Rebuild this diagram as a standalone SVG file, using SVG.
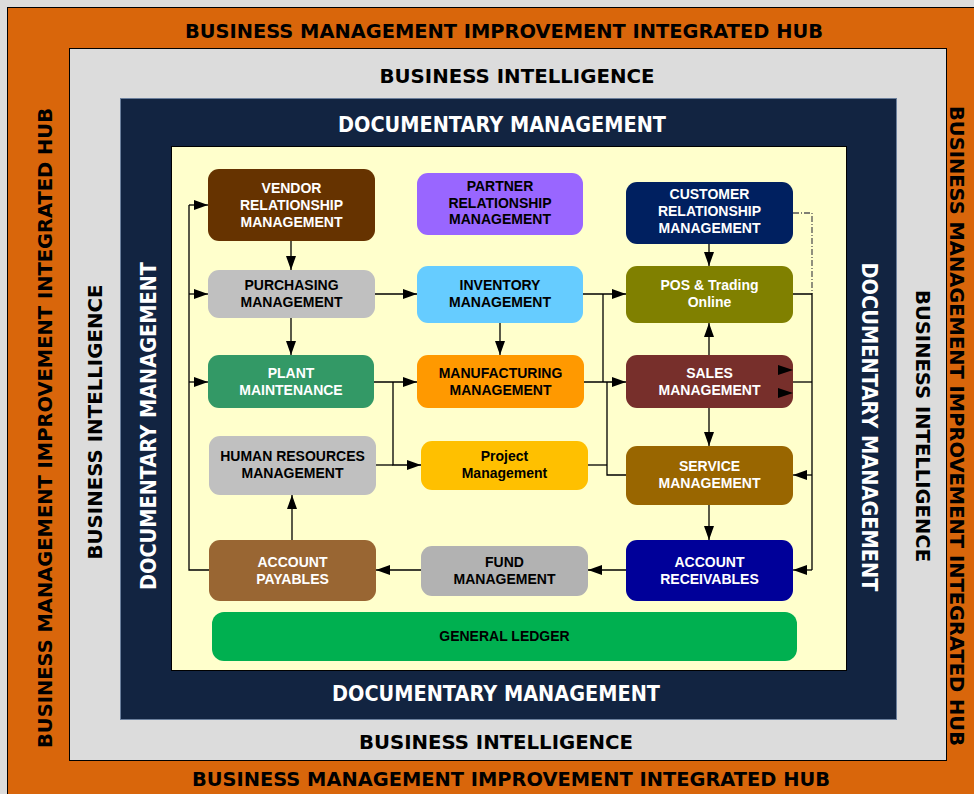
<svg xmlns="http://www.w3.org/2000/svg" width="974" height="794" viewBox="0 0 974 794">
<defs>
<marker id="ah" markerUnits="userSpaceOnUse" markerWidth="14" markerHeight="10" refX="14" refY="5" orient="auto">
<path d="M0,0 L14,5 L0,10 z" fill="#000"/>
</marker>
<style>
.frame{font-family:"DejaVu Sans",Verdana,sans-serif;font-weight:bold;text-anchor:middle}
.hub{font-size:20px;fill:#000}
.bi{font-size:20px;fill:#000}
.dm{font-size:21px;fill:#fff}
.node text{font-family:"Liberation Sans",Arial,sans-serif;font-weight:bold;font-size:14px;text-anchor:middle}
.w{fill:#fff}
.k{fill:#000}
.c{fill:none;stroke:#000;stroke-width:1.3}
.ca{fill:none;stroke:#000;stroke-width:1.3;marker-end:url(#ah)}
</style>
</defs>
<rect x="0" y="0" width="974" height="794" fill="#dcdcdc"/>
<rect x="7.5" y="7.5" width="990" height="800" fill="#d9660b" stroke="#000" stroke-width="1"/>
<rect x="69.5" y="48.5" width="877" height="712" fill="#dcdcdc" stroke="#000" stroke-width="1"/>
<rect x="120.5" y="98.5" width="776" height="621" fill="#122441" stroke="#6b7f9c" stroke-width="1"/>
<rect x="171.5" y="146.5" width="675" height="524" fill="#ffffcc" stroke="#000" stroke-width="1"/>

<g id="frame-text" class="frame">
<text class="hub" x="504" y="38" textLength="638" lengthAdjust="spacingAndGlyphs">BUSINESS MANAGEMENT IMPROVEMENT INTEGRATED HUB</text>
<text class="hub" x="511" y="786" textLength="638" lengthAdjust="spacingAndGlyphs">BUSINESS MANAGEMENT IMPROVEMENT INTEGRATED HUB</text>
<text class="hub" transform="translate(52,428) rotate(-90)" textLength="640" lengthAdjust="spacingAndGlyphs">BUSINESS MANAGEMENT IMPROVEMENT INTEGRATED HUB</text>
<text class="hub" transform="translate(950,426) rotate(90)" textLength="640" lengthAdjust="spacingAndGlyphs">BUSINESS MANAGEMENT IMPROVEMENT INTEGRATED HUB</text>
<text class="bi" x="517" y="83" textLength="275" lengthAdjust="spacingAndGlyphs">BUSINESS INTELLIGENCE</text>
<text class="bi" x="496" y="749" textLength="274" lengthAdjust="spacingAndGlyphs">BUSINESS INTELLIGENCE</text>
<text class="bi" transform="translate(102,422) rotate(-90)" textLength="275" lengthAdjust="spacingAndGlyphs">BUSINESS INTELLIGENCE</text>
<text class="bi" transform="translate(916,426) rotate(90)" textLength="272" lengthAdjust="spacingAndGlyphs">BUSINESS INTELLIGENCE</text>
<text class="dm" x="502" y="132" textLength="328" lengthAdjust="spacingAndGlyphs">DOCUMENTARY MANAGEMENT</text>
<text class="dm" x="496" y="701" textLength="328" lengthAdjust="spacingAndGlyphs">DOCUMENTARY MANAGEMENT</text>
<text class="dm" transform="translate(156,426) rotate(-90)" textLength="328" lengthAdjust="spacingAndGlyphs">DOCUMENTARY MANAGEMENT</text>
<text class="dm" transform="translate(862,427) rotate(90)" textLength="329" lengthAdjust="spacingAndGlyphs">DOCUMENTARY MANAGEMENT</text>
</g>

<g id="vendor-relationship" class="node">
<rect x="208" y="169" width="167" height="72" rx="11" fill="#663300"/>
<text class="w" x="291.5" y="193">VENDOR</text><text class="w" x="291.5" y="210">RELATIONSHIP</text><text class="w" x="291.5" y="227">MANAGEMENT</text>
</g>
<g id="purchasing" class="node">
<rect x="208" y="270" width="167" height="48" rx="11" fill="#c0c0c0"/>
<text class="k" x="291.5" y="290">PURCHASING</text><text class="k" x="291.5" y="307">MANAGEMENT</text>
</g>
<g id="plant-maintenance" class="node">
<rect x="208" y="355" width="166" height="53" rx="11" fill="#339966"/>
<text class="w" x="291" y="378">PLANT</text><text class="w" x="291" y="395">MAINTENANCE</text>
</g>
<g id="human-resources" class="node">
<rect x="209" y="436" width="167" height="59" rx="11" fill="#c0c0c0"/>
<text class="k" x="292.5" y="461">HUMAN RESOURCES</text><text class="k" x="292.5" y="478">MANAGEMENT</text>
</g>
<g id="account-payables" class="node">
<rect x="209" y="540" width="167" height="61" rx="11" fill="#996633"/>
<text class="w" x="292.5" y="567">ACCOUNT</text><text class="w" x="292.5" y="584">PAYABLES</text>
</g>
<g id="partner-relationship" class="node">
<rect x="417" y="173" width="166" height="62" rx="11" fill="#9966ff"/>
<text class="k" x="500" y="191">PARTNER</text><text class="k" x="500" y="208">RELATIONSHIP</text><text class="k" x="500" y="224">MANAGEMENT</text>
</g>
<g id="inventory" class="node">
<rect x="417" y="266" width="166" height="57" rx="11" fill="#66ccff"/>
<text class="k" x="500" y="290">INVENTORY</text><text class="k" x="500" y="307">MANAGEMENT</text>
</g>
<g id="manufacturing" class="node">
<rect x="417" y="355" width="167" height="53" rx="11" fill="#ff9900"/>
<text class="k" x="500.5" y="378">MANUFACTURING</text><text class="k" x="500.5" y="395">MANAGEMENT</text>
</g>
<g id="project" class="node">
<rect x="421" y="441" width="167" height="49" rx="11" fill="#ffc000"/>
<text class="k" x="504.5" y="461">Project</text><text class="k" x="504.5" y="478">Management</text>
</g>
<g id="fund" class="node">
<rect x="421" y="546" width="167" height="50" rx="11" fill="#b2b2b2"/>
<text class="k" x="504.5" y="567">FUND</text><text class="k" x="504.5" y="584">MANAGEMENT</text>
</g>
<g id="customer-relationship" class="node">
<rect x="626" y="182" width="167" height="62" rx="11" fill="#002060"/>
<text class="w" x="709.5" y="199">CUSTOMER</text><text class="w" x="709.5" y="216">RELATIONSHIP</text><text class="w" x="709.5" y="233">MANAGEMENT</text>
</g>
<g id="pos-trading" class="node">
<rect x="626" y="266" width="167" height="57" rx="11" fill="#808000"/>
<text class="w" x="709.5" y="290">POS &amp; Trading</text><text class="w" x="709.5" y="307">Online</text>
</g>
<g id="sales" class="node">
<rect x="626" y="355" width="167" height="53" rx="11" fill="#772f2b"/>
<text class="w" x="709.5" y="378">SALES</text><text class="w" x="709.5" y="395">MANAGEMENT</text>
</g>
<g id="service" class="node">
<rect x="626" y="446" width="167" height="59" rx="11" fill="#996600"/>
<text class="w" x="709.5" y="471">SERVICE</text><text class="w" x="709.5" y="488">MANAGEMENT</text>
</g>
<g id="account-receivables" class="node">
<rect x="626" y="540" width="167" height="61" rx="11" fill="#000099"/>
<text class="w" x="709.5" y="567">ACCOUNT</text><text class="w" x="709.5" y="584">RECEIVABLES</text>
</g>
<g id="general-ledger" class="node">
<rect x="212" y="612" width="585" height="49" rx="12" fill="#00b050"/>
<text class="k" x="504.5" y="641">GENERAL LEDGER</text>
</g>

<g id="connectors">
<path class="c" d="M209,570 H189 V205"/>
<path class="ca" d="M189,205 H208"/>
<path class="ca" d="M189,294 H208"/>
<path class="ca" d="M189,382 H208"/>
<path class="ca" d="M291,241 V270"/>
<path class="ca" d="M291,318 V355"/>
<path class="ca" d="M292,540 V495"/>
<path class="ca" d="M375,294 H417"/>
<path class="ca" d="M374,382 H417"/>
<path class="ca" d="M393,382 V465 H421"/>
<path class="c" d="M376,465 H393"/>
<path class="ca" d="M500,323 V355"/>
<path class="ca" d="M583,294 H626"/>
<path class="c" d="M603,294 V382"/>
<path class="ca" d="M584,382 H626"/>
<path class="c" d="M607,382 V475 H626"/>
<path class="c" d="M588,465 H607"/>
<path class="ca" d="M709,244 V266"/>
<path class="ca" d="M709,355 V323"/>
<path class="ca" d="M709,408 V446"/>
<path class="ca" d="M709,505 V540"/>
<path class="ca" d="M626,570 H588"/>
<path class="ca" d="M421,570 H376"/>
<path d="M793,213 H812 V294" fill="none" stroke="#555" stroke-width="1.3" stroke-dasharray="6,2,1,2"/>
<path class="c" d="M793,294 H812 V570"/>
<path class="c" d="M793,382 H812"/>
<path class="ca" d="M812,475 H793"/>
<path class="ca" d="M812,570 H793"/>
<path d="M778,365 L793,370 L778,375 z" fill="#000"/>
<path d="M778,388 L793,393 L778,398 z" fill="#000"/>
</g>
</svg>
